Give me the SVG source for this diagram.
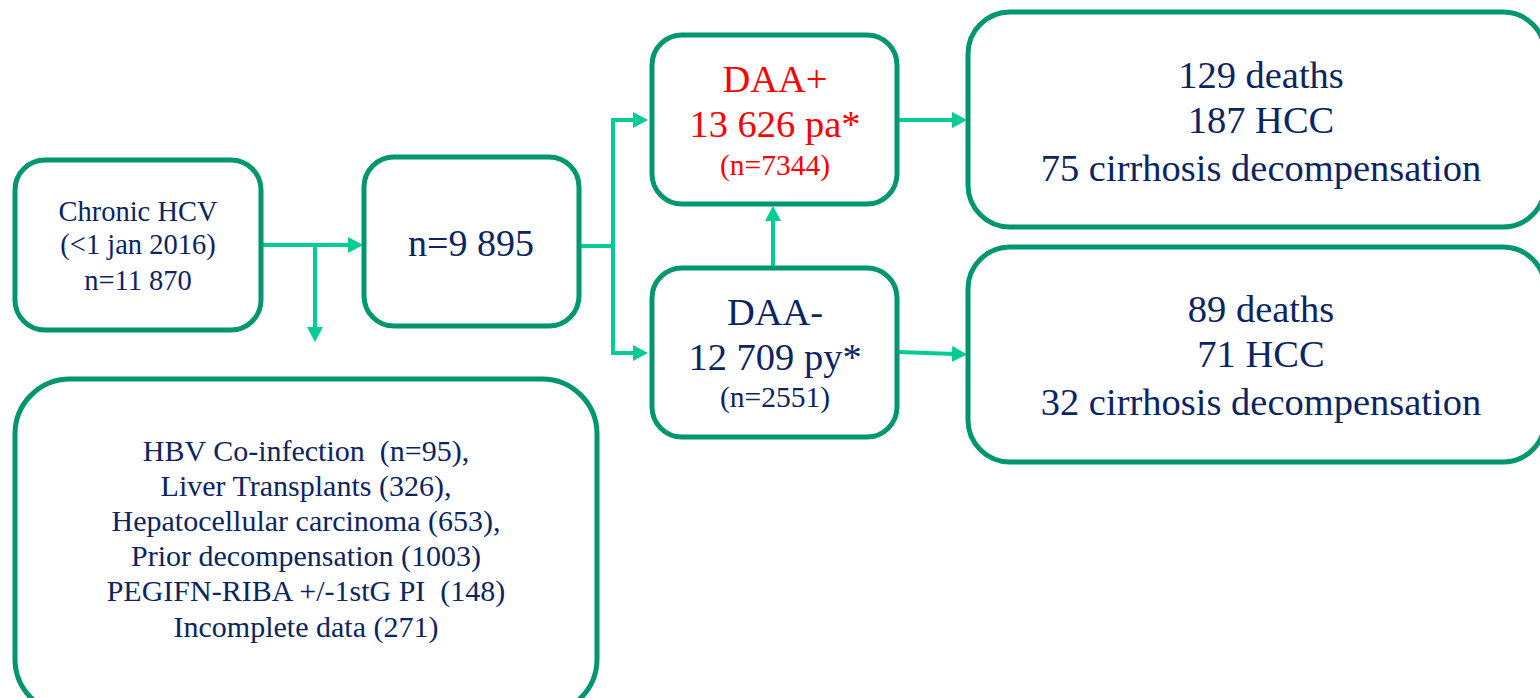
<svg xmlns="http://www.w3.org/2000/svg" width="1540" height="698" viewBox="0 0 1540 698">
<style>
.box{fill:#ffffff;stroke:#009670;stroke-width:5}
.t{font-family:"Liberation Serif","Times New Roman",serif;fill:#0d2463;text-anchor:middle}
.red{fill:#ff0000}
.con{fill:none;stroke:#00cc96;stroke-width:4}
</style>
<defs>
<marker id="ah" markerUnits="userSpaceOnUse" markerWidth="16" markerHeight="16" refX="3" refY="8" orient="auto">
<path d="M0,0 L15,8 L0,16 z" fill="#00cc96"/>
</marker>
</defs>
<rect width="1540" height="698" fill="#ffffff"/>
<g id="connectors">
<path class="con" d="M262,245 L351,245" marker-end="url(#ah)"/>
<path class="con" d="M315,245 L315,330" marker-end="url(#ah)"/>
<path class="con" d="M580,246 L613,246"/>
<path class="con" d="M613,120 L613,353"/>
<path class="con" d="M611,120 L636,120" marker-end="url(#ah)"/>
<path class="con" d="M611,353 L636,353" marker-end="url(#ah)"/>
<path class="con" d="M898,120 L955,120" marker-end="url(#ah)"/>
<path class="con" d="M898,352 L955,354" marker-end="url(#ah)"/>
<path class="con" d="M773,267 L773,218" marker-end="url(#ah)"/>
</g>
<g id="chronic">
<rect class="box" x="15" y="160" width="246" height="170" rx="30"/>
<text class="t" font-size="28.5" x="138" y="221">Chronic HCV</text>
<text class="t" font-size="28.5" x="138" y="254">(&lt;1 jan 2016)</text>
<text class="t" font-size="28.5" x="138" y="290">n=11 870</text>
</g>
<g id="n9895">
<rect class="box" x="364" y="157" width="215" height="169" rx="30"/>
<text class="t" font-size="38" x="471" y="256">n=9 895</text>
</g>
<g id="daaplus">
<rect class="box" x="652" y="35" width="245" height="169" rx="30"/>
<text class="t red" font-size="38.5" x="775" y="92">DAA+</text>
<text class="t red" font-size="38.5" x="775" y="137">13 626 pa*</text>
<text class="t red" font-size="29.5" x="775" y="175">(n=7344)</text>
</g>
<g id="daaminus">
<rect class="box" x="652" y="268" width="245" height="169" rx="30"/>
<text class="t" font-size="38.5" x="775" y="325">DAA-</text>
<text class="t" font-size="38.5" x="775" y="370">12 709 py*</text>
<text class="t" font-size="29.5" x="775" y="407">(n=2551)</text>
</g>
<g id="outcome-plus">
<rect class="box" x="968" y="12" width="577" height="215" rx="42"/>
<text class="t" font-size="38.5" x="1261" y="88">129 deaths</text>
<text class="t" font-size="38.5" x="1261" y="133">187 HCC</text>
<text class="t" font-size="38.5" x="1261" y="181">75 cirrhosis decompensation</text>
</g>
<g id="outcome-minus">
<rect class="box" x="968" y="247" width="577" height="215" rx="42"/>
<text class="t" font-size="38.5" x="1261" y="322">89 deaths</text>
<text class="t" font-size="38.5" x="1261" y="367">71 HCC</text>
<text class="t" font-size="38.5" x="1261" y="415">32 cirrhosis decompensation</text>
</g>
<g id="excluded">
<rect class="box" x="15" y="379" width="582" height="335" rx="55"/>
<text class="t" font-size="30" x="306" y="461" xml:space="preserve">HBV Co-infection  (n=95),</text>
<text class="t" font-size="30" x="306" y="496">Liver Transplants (326),</text>
<text class="t" font-size="30" x="306" y="531">Hepatocellular carcinoma (653),</text>
<text class="t" font-size="30" x="306" y="566">Prior decompensation (1003)</text>
<text class="t" font-size="30" x="306" y="601" xml:space="preserve">PEGIFN-RIBA +/-1stG PI  (148)</text>
<text class="t" font-size="30" x="306" y="637">Incomplete data (271)</text>
</g>
</svg>
